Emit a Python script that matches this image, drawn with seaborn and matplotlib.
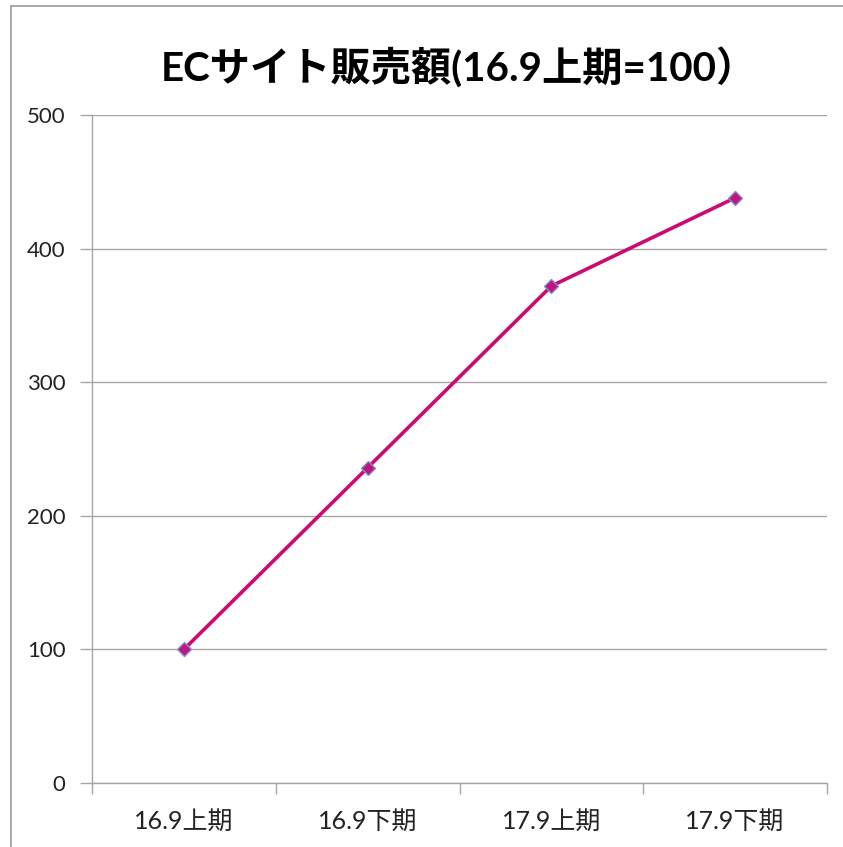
import matplotlib
matplotlib.use("Agg")
import matplotlib.pyplot as plt
from matplotlib.lines import Line2D
import seaborn as sns
import pandas as pd

# ---- data ----
periods = ["16.9上期", "16.9下期", "17.9上期", "17.9下期"]
sales_index = [100, 236, 372, 438]
title = "ECサイト販売額(16.9上期=100）"

df = pd.DataFrame({"period": periods, "index": sales_index})

sns.set_theme(style="white")
plt.rcParams["font.family"] = ["Lato", "Noto Sans CJK JP", "DejaVu Sans"]

fig = plt.figure(figsize=(8.43, 8.47), dpi=100)
ax = fig.add_axes([92 / 843, 1 - 783 / 847, (827 - 92) / 843, (783 - 115) / 847])

sns.lineplot(data=df, x="period", y="index", ax=ax, sort=False,
             color="#CC0A72", linewidth=2.6, marker="D", markersize=7,
             markerfacecolor="#C3137C", markeredgecolor="#7F8FD6",
             markeredgewidth=1.0)

ax.set_ylim(0, 500)
ax.set_xlim(-0.5, len(periods) - 0.5)
ax.set_yticks([0, 100, 200, 300, 400, 500])
ax.set_xticks(range(len(periods)))
ax.set_xticklabels(periods)
ax.set_xticks([i - 0.5 for i in range(len(periods) + 1)], minor=True)

ax.grid(axis="y", color="#A6A6A6", linewidth=1.0)
ax.set_axisbelow(True)
for side in ["top", "right"]:
    ax.spines[side].set_visible(False)
for side in ["left", "bottom"]:
    ax.spines[side].set_color("#A6A6A6")
    ax.spines[side].set_linewidth(1.0)

ax.tick_params(axis="y", which="major", direction="out", length=9, width=1,
               color="#A6A6A6", labelsize=16, labelcolor="#222222", pad=10, left=True)
ax.tick_params(axis="x", which="major", length=0, labelsize=18,
               labelcolor="#222222", pad=19)
ax.tick_params(axis="x", which="minor", direction="out", length=8, width=1,
               color="#A6A6A6", bottom=True)
ax.set_xlabel("")
ax.set_ylabel("")

fig.text(459 / 843, 1 - 68 / 847, title, ha="center", va="center",
         fontsize=29, fontweight="bold", color="black")

# outer chart-area border (left and top edges visible)
fig.add_artist(Line2D([10.5 / 843, 10.5 / 843], [0, 1 - 6.5 / 847],
                      transform=fig.transFigure, color="#9A9A9A", linewidth=1.2))
fig.add_artist(Line2D([10.5 / 843, 1], [1 - 6.5 / 847, 1 - 6.5 / 847],
                      transform=fig.transFigure, color="#9A9A9A", linewidth=1.2))

fig.savefig("out.png", dpi=100)
